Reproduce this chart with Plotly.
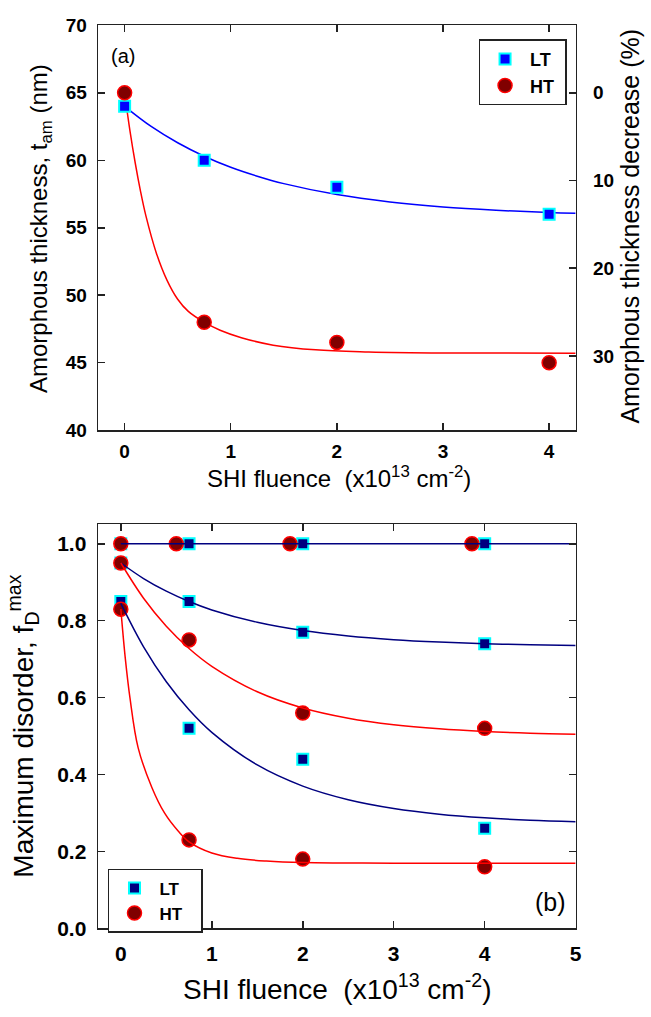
import plotly.graph_objects as go

# ---------------- Panel (a) data ----------------
fluence_a = [0, 0.75, 2, 4]
tam_lt = [64, 60, 58, 56]
tam_ht = [65, 48, 46.5, 45]

# fitted curves
fit_a_lt_x = [0, 0.25, 0.5, 0.75, 1.0, 1.25, 1.5, 2.0, 2.5, 3.0, 3.5, 4.0, 4.25]
fit_a_lt_y = [64.0, 62.51, 61.30, 60.30, 59.48, 58.82, 58.27, 57.46, 56.91, 56.54, 56.30, 56.13, 56.07]
fit_a_ht_x = [0, 0.05, 0.1, 0.15, 0.2, 0.3, 0.4, 0.5, 0.6, 0.75, 0.9, 1.1, 1.4, 1.8, 2.3, 3.0, 4.25]
fit_a_ht_y = [65, 62.2, 59.8, 57.7, 55.9, 53.1, 51.1, 49.7, 48.8, 48.0, 47.4, 46.85, 46.3, 45.95, 45.8, 45.72, 45.7]

# ---------------- Panel (b) data ----------------
fluence_b = [0, 0.75, 2, 4]
fd_lt_1 = [1.0, 1.0, 1.0, 1.0]
fd_lt_2 = [0.95, 0.85, 0.77, 0.74]
fd_lt_3 = [0.85, 0.52, 0.44, 0.26]
fluence_b_ht1 = [0, 0.61, 1.86, 3.86]
fd_ht_1 = [1.0, 1.0, 1.0, 1.0]
fd_ht_2 = [0.95, 0.75, 0.56, 0.52]
fd_ht_3 = [0.83, 0.23, 0.18, 0.16]

fit_b_lt1_x = [0, 5]
fit_b_lt1_y = [1.0, 1.0]
fit_b_x = [0, 0.25, 0.5, 0.75, 1, 1.5, 2, 2.5, 3, 3.5, 4, 4.5, 5]
fit_b_lt2_y = [0.950, 0.9096, 0.8767, 0.8499, 0.8280, 0.7957, 0.7743, 0.7601, 0.7506, 0.7444, 0.7402, 0.7374, 0.7356]
fit_b_ht2_y = [0.95, 0.8585, 0.7857, 0.7276, 0.6813, 0.6151, 0.5730, 0.5464, 0.5294, 0.5187, 0.5119, 0.5075, 0.5048]
fit_b_lt3_y = [0.845, 0.732, 0.6413, 0.5684, 0.5097, 0.4248, 0.3699, 0.3345, 0.3117, 0.2969, 0.2874, 0.2812, 0.2772]
fit_b_ht3_x = [0, 0.05, 0.1, 0.19, 0.34, 0.48, 0.63, 0.75, 1.0, 1.28, 1.6, 2.0, 2.5, 3.0, 4.0, 5.0]
fit_b_ht3_y = [0.83, 0.70, 0.60, 0.47, 0.367, 0.30, 0.253, 0.225, 0.196, 0.182, 0.175, 0.171, 0.170, 0.169, 0.169, 0.169]

FONT = "Liberation Sans, Arial, sans-serif"
W, H = 651, 1017

# colors
BLUE, CYAN, NAVY = "#0000FF", "#00FFFF", "#000080"
DRED, RED = "#800000", "#FF0000"

fig = go.Figure()

def sq(x, y, fill, xa, ya, show, leg, pad):
    return go.Scatter(x=x, y=y, mode="markers", xaxis=xa, yaxis=ya,
                      marker=dict(symbol="square", size=11, color=fill,
                                  line=dict(color=CYAN, width=2)),
                      name="<b>LT</b>" + pad, showlegend=show, legend=leg)

def ci(x, y, xa, ya, show, leg, pad):
    return go.Scatter(x=x, y=y, mode="markers", xaxis=xa, yaxis=ya,
                      marker=dict(symbol="circle", size=14, color=DRED,
                                  line=dict(color=RED, width=1.5)),
                      name="<b>HT</b>" + pad, showlegend=show, legend=leg)

def ln(x, y, color, xa, ya):
    return go.Scatter(x=x, y=y, mode="lines", xaxis=xa, yaxis=ya,
                      line=dict(color=color, width=1.5, shape="spline"),
                      showlegend=False, hoverinfo="skip")

PA = "&nbsp;"
PB = "&nbsp;&nbsp;&nbsp;"

# panel (a)
fig.add_trace(ln(fit_a_lt_x, fit_a_lt_y, BLUE, "x", "y"))
fig.add_trace(ln(fit_a_ht_x, fit_a_ht_y, RED, "x", "y"))
fig.add_trace(sq(fluence_a, tam_lt, BLUE, "x", "y", True, "legend", PA))
fig.add_trace(ci(fluence_a, tam_ht, "x", "y", True, "legend", PA))

# panel (b)
fig.add_trace(sq(fluence_b, fd_lt_1, NAVY, "x2", "y2", True, "legend2", PB))
fig.add_trace(sq(fluence_b, fd_lt_2, NAVY, "x2", "y2", False, "legend2", PB))
fig.add_trace(sq(fluence_b, fd_lt_3, NAVY, "x2", "y2", False, "legend2", PB))
fig.add_trace(ci(fluence_b_ht1, fd_ht_1, "x2", "y2", True, "legend2", PB))
fig.add_trace(ci(fluence_b, fd_ht_2, "x2", "y2", False, "legend2", PB))
fig.add_trace(ci(fluence_b, fd_ht_3, "x2", "y2", False, "legend2", PB))
fig.add_trace(ln(fit_b_lt1_x, fit_b_lt1_y, NAVY, "x2", "y2"))
fig.add_trace(ln(fit_b_x, fit_b_lt2_y, NAVY, "x2", "y2"))
fig.add_trace(ln(fit_b_x, fit_b_ht2_y, RED, "x2", "y2"))
fig.add_trace(ln(fit_b_x, fit_b_lt3_y, NAVY, "x2", "y2"))
fig.add_trace(ln(fit_b_ht3_x, fit_b_ht3_y, RED, "x2", "y2"))

# geometry (pixels)
xl, xr = 99, 581
ya_top, ya_bot = 15.7, 429
yb_top, yb_bot = 525, 937.7

def px(v):
    return v / W

def py(v):
    return 1 - v / H

AX = dict(showline=True, linecolor="#222222", linewidth=1.5, ticks="inside",
          ticklen=7, tickwidth=1.5, tickcolor="#222222", showgrid=False,
          zeroline=False, ticklabeloverflow="allow")

tam_range = [40, 70]
pct_range = [(65 - tam_range[0]) / 65 * 100, (65 - tam_range[1]) / 65 * 100]

fig.update_layout(
    width=W, height=H, margin=dict(l=0, r=0, t=0, b=0),
    paper_bgcolor="white", plot_bgcolor="white", hovermode=False,
    font=dict(family=FONT, color="black"),
    xaxis=dict(domain=[px(xl), px(xr)], anchor="y", range=[-0.25, 4.25],
               tickvals=[0, 1, 2, 3, 4], mirror="ticks",
               tickfont=dict(size=19, weight="bold"), ticklabelstandoff=4, **AX),
    yaxis=dict(domain=[py(ya_bot), py(ya_top)], anchor="x", range=tam_range,
               tickvals=[40, 45, 50, 55, 60, 65, 70], mirror=True,
               tickfont=dict(size=19, weight="bold"), ticklabelstandoff=6, **AX),
    yaxis3=dict(overlaying="y", side="right", anchor="x", range=pct_range,
                tickvals=[0, 10, 20, 30],
                tickfont=dict(size=19, weight="bold"), ticklabelstandoff=12, **AX),
    xaxis2=dict(domain=[px(xl), px(xr)], anchor="y2", range=[-0.25, 5],
                tickvals=[0, 1, 2, 3, 4, 5], mirror="ticks",
                tickfont=dict(size=21, weight="bold"), ticklabelstandoff=6, **AX),
    yaxis2=dict(domain=[py(yb_bot), py(yb_top)], anchor="x2", range=[0, 1.051],
                tickvals=[0, 0.2, 0.4, 0.6, 0.8, 1.0], tickformat=".1f", mirror="ticks",
                tickfont=dict(size=21, weight="bold"), ticklabelstandoff=6, **AX),
    legend=dict(x=px(483), y=py(30), xanchor="left", yanchor="top",
                bgcolor="white", bordercolor="#222222", borderwidth=1.5,
                font=dict(size=18, family=FONT), itemwidth=40,
                tracegroupgap=0),
    legend2=dict(x=px(109), y=py(877), xanchor="left", yanchor="top",
                 bgcolor="white", bordercolor="#222222", borderwidth=1.5,
                 font=dict(size=17, family=FONT), itemwidth=40,
                 tracegroupgap=0),
)
# invisible trace to activate the right-hand axis
fig.add_trace(go.Scatter(x=[None], y=[None], xaxis="x", yaxis="y3", showlegend=False))

ann = [
    dict(text="Amorphous thickness, t<sub>am</sub> (nm)", x=px(41), y=py(223), textangle=-90,
         font=dict(size=24)),
    dict(text="Amorphous thickness decrease (%)", x=px(636), y=py(221), textangle=-90,
         font=dict(size=25)),
    dict(text="SHI fluence&nbsp; (x10<sup>13</sup> cm<sup>-2</sup>)", x=px(342), y=py(477),
         font=dict(size=24)),
    dict(text="(a)", x=px(124), y=py(46.5), font=dict(size=20)),
    dict(text="SHI fluence&nbsp; (x10<sup>13</sup> cm<sup>-2</sup>)", x=px(340), y=py(998),
         font=dict(size=28)),
    dict(text="Maximum disorder, f<sub>D</sub><sup>max</sup>", x=px(23), y=py(731), textangle=-90,
         font=dict(size=28)),
    dict(text="(b)", x=px(556), y=py(911), font=dict(size=25)),
]
for a in ann:
    a.update(xref="paper", yref="paper", showarrow=False, xanchor="center", yanchor="middle")
    a["font"]["family"] = FONT
    a["font"]["color"] = "black"
fig.update_layout(annotations=ann)

# remove the browser's default body margin so the figure fills the window exactly
fig.write_html("out.html", config={"displayModeBar": False, "staticPlot": True},
               post_script="document.body.style.margin='0px';document.body.style.overflow='hidden';")
